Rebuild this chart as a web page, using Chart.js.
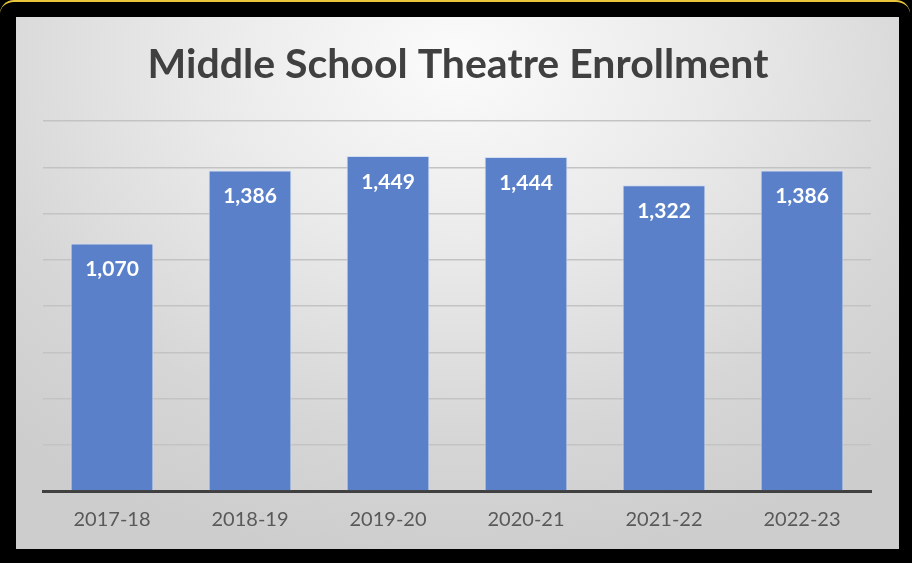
<!DOCTYPE html>
<html>
<head>
<meta charset="utf-8">
<script src="https://cdn.jsdelivr.net/npm/chart.js@4"></script>
<style>
  html, body { margin: 0; padding: 0; }
  body { width: 912px; height: 563px; background: #000; position: relative; overflow: hidden; }
  .frame { position: absolute; left: 0; top: 0; width: 910px; height: 561px; border-top: 2px solid #e8c53a; border-radius: 14px 14px 0 0; background: #000; }
  .panel {
    position: absolute; left: 16px; top: 17px; width: 883px; height: 532px;
    background: radial-gradient(ellipse 75% 95% at 50% 8%, #fbfbfb 0%, #e9e9e9 40%, #d6d6d6 75%, #cdcdcd 100%);
  }
  canvas { display: block; }
</style>
</head>
<body>
<div class="frame"></div>
<div class="panel"><canvas id="chart" width="883" height="532"></canvas></div>
<script>
const titleText = 'Middle School Theatre Enrollment';
const years = ['2017-18', '2018-19', '2019-20', '2020-21', '2021-22', '2022-23'];
const enrollment = [1070, 1386, 1449, 1444, 1322, 1386];
const yMax = 1600;
const yStep = 200;

const FONT = 'Lato, "Open Sans", sans-serif';

// title + value labels drawn by hand (no datalabels plugin offline)
const extras = {
  id: 'extras',
  afterDatasetsDraw(chart) {
    const ctx = chart.ctx;
    ctx.save();
    ctx.fillStyle = '#404040';
    ctx.font = 'bold 41px ' + FONT;
    ctx.textAlign = 'center';
    ctx.textBaseline = 'middle';
    ctx.fillText(titleText, 442, 48);

    ctx.fillStyle = '#ffffff';
    ctx.font = 'bold 21px ' + FONT;
    chart.getDatasetMeta(0).data.forEach((bar, i) => {
      ctx.fillText(enrollment[i].toLocaleString('en-US'), bar.x, bar.y + 26);
    });
    ctx.restore();
  }
};

new Chart(document.getElementById('chart'), {
  type: 'bar',
  data: {
    labels: years,
    datasets: [{
      data: enrollment,
      backgroundColor: '#5a80c9',
      borderColor: '#d3def2',
      borderWidth: 1,
      categoryPercentage: 0.6,
      barPercentage: 1
    }]
  },
  options: {
    responsive: false,
    animation: false,
    layout: { padding: { top: 104, left: 27, right: 28, bottom: 8 } },
    plugins: { legend: { display: false }, title: { display: false }, tooltip: { enabled: false } },
    scales: {
      x: {
        grid: { display: false },
        border: { color: '#404040', width: 3 },
        ticks: { color: '#595959', font: { family: FONT, size: 20 }, padding: 9 }
      },
      y: {
        min: 0, max: yMax,
        ticks: { display: false, stepSize: yStep },
        border: { display: false },
        grid: { color: '#c3c3c3', lineWidth: 1.5, drawTicks: false }
      }
    }
  },
  plugins: [extras]
});
</script>
</body>
</html>
